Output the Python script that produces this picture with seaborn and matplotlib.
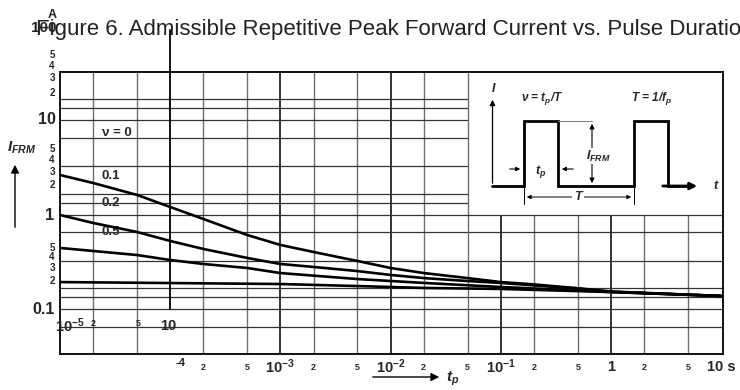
import numpy as np
import pandas as pd
import matplotlib
matplotlib.use("Agg")
import matplotlib.pyplot as plt
import matplotlib.transforms as mtransforms
from matplotlib.patches import Rectangle
import seaborn as sns

sns.set_style("white")
plt.rcParams['font.family'] = ['Liberation Sans', 'DejaVu Sans']
plt.rcParams['mathtext.default'] = 'regular'

# ---------------- data ----------------
t_01 = [1e-5, 2e-5, 5e-5, 1e-4, 2e-4, 5e-4, 1e-3, 2e-3, 5e-3, 1e-2, 2e-2, 5e-2, 0.1, 0.18, 0.5, 1, 10]
i_01 = [2.65, 2.18, 1.63, 1.215, 0.907, 0.614, 0.482, 0.406, 0.326, 0.275, 0.243, 0.215, 0.195, 0.186, 0.168, 0.155, 0.139]
t_02 = [1e-5, 2e-5, 5e-5, 1e-4, 2e-4, 5e-4, 1e-3, 2e-3, 5e-3, 1e-2, 2e-2, 5e-2, 0.1, 0.5, 1, 10]
i_02 = [1.0, 0.823, 0.661, 0.531, 0.437, 0.351, 0.303, 0.282, 0.255, 0.232, 0.215, 0.2, 0.191, 0.166, 0.154, 0.139]
t_05 = [1e-5, 2e-5, 5e-5, 1e-4, 2e-4, 5e-4, 1e-3, 5e-3, 2e-2, 0.1, 1, 10]
i_05 = [0.448, 0.416, 0.377, 0.334, 0.303, 0.275, 0.243, 0.21, 0.191, 0.173, 0.153, 0.139]
t_10 = [1e-5, 1e-3, 5e-3, 2e-2, 0.1, 1, 10]
i_10 = [0.195, 0.186, 0.177, 0.169, 0.165, 0.153, 0.139]

curve_labels = ["ν = 0", "0.1", "0.2", "0.5"]

grid_x_major = [1e-3, 1e-2, 1e-1, 1]
grid_x_minor = [2e-5, 5e-5, 2e-4, 5e-4, 2e-3, 5e-3, 2e-2, 5e-2, 0.2, 0.5, 2, 5]
grid_y = [0.066, 0.1, 0.134, 0.167, 0.326, 0.66, 1, 1.34, 1.67, 3.26, 6.6, 10, 13.4, 16.7]

xlab_vals = [2e-4, 5e-4, 1e-3, 2e-3, 5e-3, 1e-2, 2e-2, 5e-2, 0.1, 0.2, 0.5, 1, 2, 5, 10]
xlab_text = ['2', '5', '10$^{-3}$', '2', '5', '10$^{-2}$', '2', '5', '10$^{-1}$', '2', '5', '1', '2', '5', '10 s']

frames = []
for name, t, i in [("0.1", t_01, i_01), ("0.2", t_02, i_02), ("0.5", t_05, i_05), ("1", t_10, i_10)]:
    frames.append(pd.DataFrame({"t": t, "I": i, "v": name}))
df = pd.concat(frames, ignore_index=True)

W, H = 740, 390
fig = plt.figure(figsize=(W / 100, H / 100), dpi=100)
px = mtransforms.Affine2D().scale(1 / W, -1 / H).translate(0, 1) + fig.transFigure

ax = fig.add_axes([60 / W, 36 / H, 663 / W, 282 / H])
sns.lineplot(data=df, x="t", y="I", hue="v", units="v", estimator=None,
             palette=["black"] * 4, linewidth=1.9, legend=False, ax=ax, zorder=3)
ax.set_xscale('log')
ax.set_yscale('log')
ax.set_xlim(1e-5, 10.4)
ax.set_ylim(0.0338, 32.6)
ax.set_xticks([]); ax.set_yticks([])
ax.minorticks_off()
ax.set_xlabel(""); ax.set_ylabel("")
for s in ax.spines.values():
    s.set_linewidth(1.4)
    s.set_color('#111111')

for v in grid_x_minor:
    ax.axvline(v, color='#6e6e6e', lw=1.0, zorder=1 if v != 5e-2 else 1.6)
for v in grid_x_major:
    ax.axvline(v, color='#111111', lw=1.2, zorder=1)
for v in grid_y:
    ax.axhline(v, color='#333333', lw=0.9, zorder=1 if v != 1 else 1.6)

# special long 1e-4 line
ax.plot([1e-4, 1e-4], [0.1, 90.7], color='#111111', lw=1.4, clip_on=False, zorder=2)

# white inset area
ax.add_patch(Rectangle((0.05, 1), 10.4 - 0.05, 32.6 - 1, facecolor='white',
                       edgecolor='none', zorder=1.5))

# curve labels (behind grid, as in the reference)
for lab, (x, y) in zip(curve_labels, [(117, 133), (111, 176), (111, 203), (111, 232)]):
    ax.text(x, y, lab, transform=px, ha='center', va='center', fontsize=9.5,
            fontweight='bold', zorder=0.8)

# x tick labels
xtr = mtransforms.blended_transform_factory(ax.transData, px)
for v, s in zip(xlab_vals, xlab_text):
    big = not s.isdigit() or s == '1'
    fig.text(v, 367, s, transform=xtr, ha='center', va='center', fontweight='bold',
             fontsize=10.5 if big else 6.5)

fig.text(176, 363, '-4', transform=px, ha='left', va='center', fontsize=8, fontweight='bold')
fig.text(55, 326, '10$^{-5}$', transform=px, ha='left', va='center', fontsize=10.5, fontweight='bold')
fig.text(93, 324, '2', transform=px, ha='center', va='center', fontsize=6.5, fontweight='bold')
fig.text(138, 323, '5', transform=px, ha='center', va='center', fontsize=6.5, fontweight='bold')
fig.text(168, 326, '10', transform=px, ha='center', va='center', fontsize=10.5, fontweight='bold')

# y labels
ylabs = [('100', 44, 28, 11), ('5', 52, 55, 7), ('4', 52, 66, 7), ('3', 52, 78, 7), ('2', 52, 93, 7),
         ('10', 47, 120, 11.5), ('5', 52, 149, 7), ('4', 52, 160, 7), ('3', 52, 172, 7), ('2', 52, 185, 7),
         ('1', 50, 216, 12), ('5', 52, 248, 7), ('4', 52, 257, 7), ('3', 52, 268, 7), ('2', 52, 281, 7),
         ('0.1', 44, 310, 11.5)]
for s, x, y, f in ylabs:
    fig.text(x, y, s, transform=px, ha='center', va='center', fontsize=f, fontweight='bold')
fig.text(52, 15, 'A', transform=px, ha='center', va='center', fontsize=9, fontweight='bold')

# title (runs off the right edge as in the reference)
fig.text(36, 35, 'Figure 6. Admissible Repetitive Peak Forward Current vs. Pulse Duration',
         transform=px, ha='left', va='baseline', fontsize=16, color='#222222')

# axis labels
fig.text(22, 148, '$I_{FRM}$', transform=px, ha='center', va='center', fontsize=11,
         fontweight='bold', fontstyle='italic')
ax.annotate('', xy=(15, 162), xytext=(15, 230), xycoords=px, textcoords=px,
            arrowprops=dict(arrowstyle='-|>', color='k', lw=1.0, mutation_scale=12))
ax.annotate('', xy=(442, 377), xytext=(370, 377), xycoords=px, textcoords=px,
            arrowprops=dict(arrowstyle='-|>', color='k', lw=1.0, mutation_scale=12))
fig.text(446, 379, '$t_p$', transform=px, ha='left', va='center', fontsize=11,
         fontweight='bold', fontstyle='italic')

# inset schematic
a2 = fig.add_axes([468 / W, 1 - 215 / H, 255 / W, 143 / H])
a2.set_xlim(468, 723); a2.set_ylim(215, 72)
a2.axis('off'); a2.patch.set_alpha(0)
a2.plot([492, 524, 524, 558, 558, 634, 634, 668, 668, 690],
        [186, 186, 121, 121, 186, 186, 121, 121, 186, 186], color='k', lw=2.0,
        solid_joinstyle='miter')
a2.annotate('', xy=(700, 186), xytext=(660, 186),
            arrowprops=dict(arrowstyle='-|>', color='k', lw=2.0, mutation_scale=10))
a2.annotate('', xy=(492.5, 97), xytext=(492.5, 186),
            arrowprops=dict(arrowstyle='-|>', color='k', lw=0.9, mutation_scale=8))
a2.text(494, 89, 'I', ha='center', va='center', fontsize=9, fontweight='bold', fontstyle='italic')
a2.text(716, 186, 't', ha='center', va='center', fontsize=9, fontweight='bold', fontstyle='italic')
a2.plot([558, 592], [121, 121], color='#888888', lw=0.8)
a2.annotate('', xy=(592, 121), xytext=(592, 186),
            arrowprops=dict(arrowstyle='<|-|>', color='k', lw=0.8, mutation_scale=7))
a2.text(598, 156, '$I_{FRM}$', ha='center', va='center', fontsize=9, fontweight='bold',
        fontstyle='italic', bbox=dict(facecolor='white', edgecolor='none', pad=0.5))
a2.annotate('', xy=(523, 169), xytext=(507, 169),
            arrowprops=dict(arrowstyle='-|>', color='k', lw=0.8, mutation_scale=6))
a2.annotate('', xy=(559, 169), xytext=(576, 169),
            arrowprops=dict(arrowstyle='-|>', color='k', lw=0.8, mutation_scale=6))
a2.text(541, 171, '$t_p$', ha='center', va='center', fontsize=9, fontweight='bold', fontstyle='italic')
a2.plot([524, 524], [186, 204], color='k', lw=0.7)
a2.plot([634, 634], [186, 204], color='k', lw=0.7)
a2.annotate('', xy=(524, 197), xytext=(634, 197),
            arrowprops=dict(arrowstyle='<|-|>', color='k', lw=0.7, mutation_scale=6))
a2.text(578, 197, 'T', ha='center', va='center', fontsize=9, fontweight='bold', fontstyle='italic',
        bbox=dict(facecolor='white', edgecolor='none', pad=1.5))
a2.text(542, 99, 'ν = $t_p$/T', ha='center', va='center', fontsize=8.5, fontweight='bold', fontstyle='italic')
a2.text(652, 99, 'T = 1/$f_p$', ha='center', va='center', fontsize=8.5, fontweight='bold', fontstyle='italic')

fig.savefig('out.png', dpi=100)
